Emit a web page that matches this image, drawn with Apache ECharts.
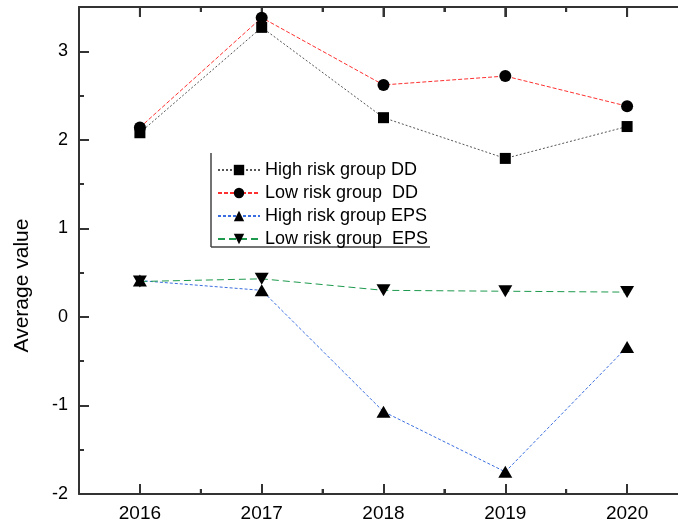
<!DOCTYPE html>
<html>
<head>
<meta charset="utf-8">
<script src="https://cdn.jsdelivr.net/npm/echarts@6/dist/echarts.min.js"></script>
<style>
html,body{margin:0;padding:0;background:#fff;}
#c{width:678px;height:526px;}
</style>
</head>
<body>
<div id="c"></div>
<script>
var years = ['2016', '2017', '2018', '2019', '2020'];
var highDD = [2.08, 3.27, 2.25, 1.79, 2.15];
var lowDD = [2.14, 3.38, 2.62, 2.72, 2.38];
var highEPS = [0.41, 0.30, -1.07, -1.75, -0.34];
var lowEPS = [0.40, 0.43, 0.30, 0.29, 0.28];
var seriesNames = ['High risk group DD', 'Low risk group  DD', 'High risk group EPS', 'Low risk group  EPS'];

var FONT = "'Liberation Sans', Arial, sans-serif";
var AX = {color: '#333', width: 2};
var TK = {color: '#333', width: 2};

function catAxis(grid, pos, aligned, len, showLine, showLabel) {
  return {
    type: 'category', data: years, position: pos, boundaryGap: true, gridIndex: grid,
    axisLine: {show: showLine, onZero: false, lineStyle: AX},
    axisTick: {show: true, inside: true, alignWithLabel: aligned, length: len, lineStyle: TK},
    axisLabel: {show: true, color: showLabel ? '#000' : 'rgba(0,0,0,0)', fontSize: 19, fontFamily: FONT, margin: 10},
    splitLine: {show: false}
  };
}

var gridBox = {left: 79, top: 7, bottom: 32, right: -10, containLabel: false, outerBoundsMode: 'none'};

var legendFrame = [
  {type: 'line', shape: {x1: 211, y1: 153, x2: 211, y2: 247}, style: {stroke: '#444', lineWidth: 1.5}},
  {type: 'line', shape: {x1: 211, y1: 247, x2: 430, y2: 247}, style: {stroke: '#444', lineWidth: 1.5}}
];

var chart = echarts.init(document.getElementById('c'), null, {renderer: 'canvas'});
chart.setOption({
  backgroundColor: '#fff',
  animation: false,
  grid: [Object.assign({}, gridBox), Object.assign({}, gridBox)],
  xAxis: [
    catAxis(0, 'bottom', true, 10, true, true),
    catAxis(0, 'top', true, 10, true, false),
    catAxis(1, 'bottom', false, 5, false, false),
    catAxis(1, 'top', false, 5, false, false)
  ],
  yAxis: [
    {
      type: 'value', gridIndex: 0, min: -2, max: 3.5, interval: 1, position: 'left',
      axisLine: {show: true, onZero: false, lineStyle: AX},
      axisTick: {show: true, inside: true, length: 10, lineStyle: TK},
      axisLabel: {color: '#000', fontSize: 18, fontFamily: FONT, margin: 11,
        formatter: function (v) { return Number.isInteger(v) ? String(v) : ''; }},
      splitLine: {show: false},
      name: 'Average value', nameLocation: 'middle', nameGap: 46, nameRotate: 90,
      nameTextStyle: {color: '#000', fontSize: 21, fontFamily: FONT, padding: [0, 0, 0, -70]}
    },
    {
      type: 'value', gridIndex: 1, min: -2, max: 3.5, interval: 0.5, position: 'left',
      axisLine: {show: false, onZero: false},
      axisTick: {show: true, inside: true, length: 5, lineStyle: TK},
      axisLabel: {show: false},
      splitLine: {show: false}
    }
  ],
  legend: {
    orient: 'vertical', left: 212, top: 156,
    itemWidth: 42, itemHeight: 13, itemGap: 5,
    textStyle: {color: '#000', fontSize: 18, fontFamily: FONT, padding: [0, 0, 0, 0]},
    data: seriesNames
  },
  graphic: legendFrame,
  series: [
    {name: seriesNames[0], type: 'line', data: highDD, xAxisIndex: 0, yAxisIndex: 0,
      symbol: 'rect', symbolSize: 11, itemStyle: {color: '#000'},
      lineStyle: {color: '#555', width: 1, type: [2, 2]}},
    {name: seriesNames[1], type: 'line', data: lowDD, xAxisIndex: 0, yAxisIndex: 0,
      symbol: 'circle', symbolSize: 12, itemStyle: {color: '#000'},
      lineStyle: {color: '#ff3030', width: 1, type: [4, 2]}},
    {name: seriesNames[2], type: 'line', data: highEPS, xAxisIndex: 0, yAxisIndex: 0,
      symbol: 'triangle', symbolSize: [14, 12], itemStyle: {color: '#000'},
      lineStyle: {color: '#3a6ee0', width: 1, type: [3, 2]}},
    {name: seriesNames[3], type: 'line', data: lowEPS, xAxisIndex: 0, yAxisIndex: 0,
      symbol: 'triangle', symbolRotate: 180, symbolSize: [14, 12], itemStyle: {color: '#000'},
      lineStyle: {color: '#1e9a4e', width: 1, type: [7, 4]}}
  ]
});

// Frame top edge and mirrored / minor x ticks, positioned through the chart's own scales
(function () {
  var yTop = chart.convertToPixel({yAxisIndex: 0}, 3.5);
  var yBot = chart.convertToPixel({yAxisIndex: 0}, -2);
  var xs = years.map(function (y) { return chart.convertToPixel({xAxisIndex: 0}, y); });
  var step = xs[1] - xs[0];
  var xLeft = xs[0] - step / 2;
  var xRight = xs[xs.length - 1] + step / 2;
  var extra = [
    {type: 'line', shape: {x1: xLeft, y1: yTop, x2: xRight, y2: yTop}, style: {stroke: '#333', lineWidth: 2}}
  ];
  xs.forEach(function (x) {
    extra.push({type: 'line', shape: {x1: x, y1: yTop, x2: x, y2: yTop + 10}, style: {stroke: '#333', lineWidth: 2}});
  });
  for (var i = 0; i <= xs.length; i++) {
    var xm = xLeft + i * step;
    extra.push({type: 'line', shape: {x1: xm, y1: yTop, x2: xm, y2: yTop + 5}, style: {stroke: '#333', lineWidth: 2}});
    extra.push({type: 'line', shape: {x1: xm, y1: yBot, x2: xm, y2: yBot - 5}, style: {stroke: '#333', lineWidth: 2}});
  }
  chart.setOption({graphic: legendFrame.concat(extra)});
})();
</script>
</body>
</html>
